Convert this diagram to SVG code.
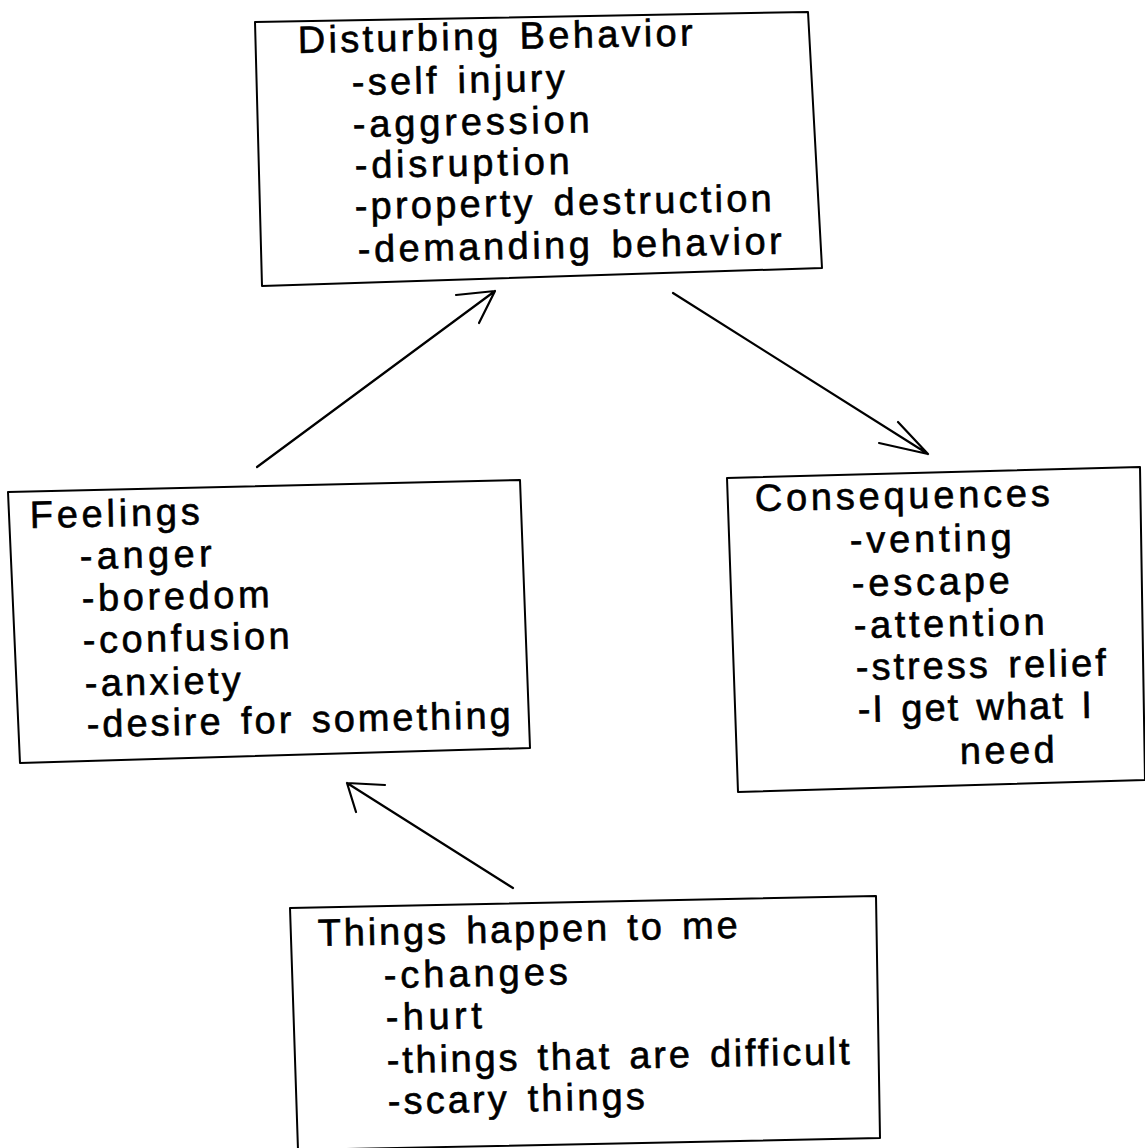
<svg xmlns="http://www.w3.org/2000/svg" width="1145" height="1148" viewBox="0 0 1145 1148">
<style>
.box{fill:none;stroke:#000;stroke-width:2;stroke-linejoin:round}
.t{font-family:"Liberation Sans",Arial,Helvetica,sans-serif;font-size:38px;fill:#000;stroke:#000;stroke-width:0.6;word-spacing:4px}
.c{fill:none;stroke:#000;stroke-width:2.2;stroke-linecap:round;stroke-linejoin:round}
</style>
<rect width="1145" height="1148" fill="#fff"/>
<g id="disturbing-behavior">
<polygon class="box" points="255,22 808,12 822,268 262,286"/>
<text class="t" x="298" y="53" textLength="395" lengthAdjust="spacing" transform="rotate(-1.1 298 53)">Disturbing Behavior</text>
<text class="t" x="352" y="95" textLength="213" lengthAdjust="spacing" transform="rotate(-1.1 352 95)">-self injury</text>
<text class="t" x="353" y="137" textLength="237" lengthAdjust="spacing" transform="rotate(-1.1 353 137)">-aggression</text>
<text class="t" x="355" y="178" textLength="215" lengthAdjust="spacing" transform="rotate(-1.1 355 178)">-disruption</text>
<text class="t" x="355" y="219" textLength="417" lengthAdjust="spacing" transform="rotate(-1.1 355 219)">-property destruction</text>
<text class="t" x="358" y="262" textLength="424" lengthAdjust="spacing" transform="rotate(-1.1 358 262)">-demanding behavior</text>
</g>
<g id="feelings">
<polygon class="box" points="8,492 520,480 530,748 20,763"/>
<text class="t" x="30" y="528" textLength="170" lengthAdjust="spacing" transform="rotate(-1.2 30 528)">Feelings</text>
<text class="t" x="80" y="569" textLength="132" lengthAdjust="spacing" transform="rotate(-1.2 80 569)">-anger</text>
<text class="t" x="82" y="611" textLength="188" lengthAdjust="spacing" transform="rotate(-1.2 82 611)">-boredom</text>
<text class="t" x="83" y="653" textLength="207" lengthAdjust="spacing" transform="rotate(-1.2 83 653)">-confusion</text>
<text class="t" x="85" y="696" textLength="156" lengthAdjust="spacing" transform="rotate(-1.2 85 696)">-anxiety</text>
<text class="t" x="87" y="737" textLength="424" lengthAdjust="spacing" transform="rotate(-1.2 87 737)">-desire for something</text>
</g>
<g id="consequences">
<polygon class="box" points="727,478 1140,467 1145,780 738,792"/>
<text class="t" x="755" y="511" textLength="295" lengthAdjust="spacing" transform="rotate(-1 755 511)">Consequences</text>
<text class="t" x="850" y="553" textLength="162" lengthAdjust="spacing" transform="rotate(-1 850 553)">-venting</text>
<text class="t" x="852" y="596" textLength="158" lengthAdjust="spacing" transform="rotate(-1 852 596)">-escape</text>
<text class="t" x="854" y="638" textLength="191" lengthAdjust="spacing" transform="rotate(-1 854 638)">-attention</text>
<text class="t" x="856" y="680" textLength="250" lengthAdjust="spacing" transform="rotate(-1 856 680)">-stress relief</text>
<text class="t" x="858" y="722" textLength="234" lengthAdjust="spacing" transform="rotate(-1 858 722)">-I get what I</text>
<text class="t" x="960" y="764" textLength="95" lengthAdjust="spacing" transform="rotate(-1 960 764)">need</text>
</g>
<g id="things-happen">
<polygon class="box" points="290,908 876,896 880,1138 298,1150"/>
<text class="t" x="318" y="946" textLength="420" lengthAdjust="spacing" transform="rotate(-1.1 318 946)">Things happen to me</text>
<text class="t" x="384" y="988" textLength="184" lengthAdjust="spacing" transform="rotate(-1.1 384 988)">-changes</text>
<text class="t" x="386" y="1030" textLength="96" lengthAdjust="spacing" transform="rotate(-1.1 386 1030)">-hurt</text>
<text class="t" x="387" y="1073" textLength="463" lengthAdjust="spacing" transform="rotate(-1.1 387 1073)">-things that are difficult</text>
<text class="t" x="388" y="1114" textLength="257" lengthAdjust="spacing" transform="rotate(-1.1 388 1114)">-scary things</text>
</g>
<g id="connectors">
<path class="c" d="M257,467 L495,291 M456,295 L495,291 L479,323"/>
<path class="c" d="M673,293 L928,454 M898,422 L928,454 L879,443"/>
<path class="c" d="M513,888 L347,783 M385,785 L347,783 L356,812"/>
</g>
</svg>
